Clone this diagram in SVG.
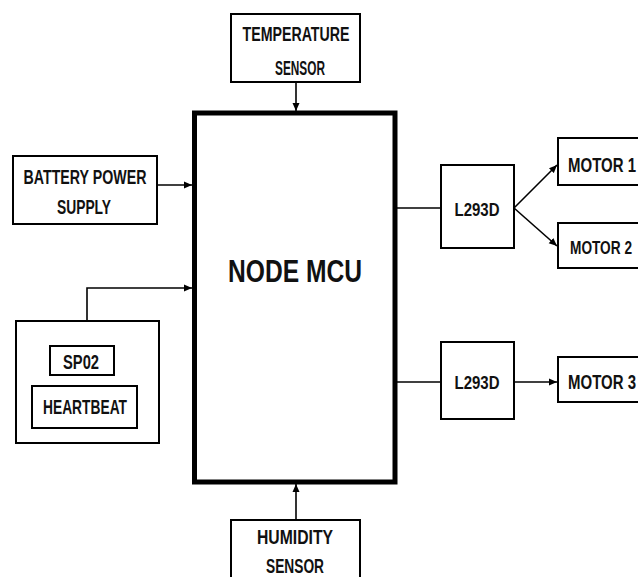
<svg xmlns="http://www.w3.org/2000/svg" width="638" height="577" viewBox="0 0 638 577">
<style>
.box{fill:#fff;stroke:#000;stroke-width:2}
.t{font-family:"Liberation Sans",Arial,sans-serif;font-weight:bold;fill:#111;text-anchor:middle}
.c{fill:none;stroke:#000;stroke-width:1.6}
</style>
<defs>
<marker id="ah" viewBox="0 0 8 8" refX="8" refY="4" markerWidth="8" markerHeight="8" markerUnits="userSpaceOnUse" orient="auto">
<path d="M0,0.5 L8,4 L0,7.5 Z" fill="#000"/>
</marker>
</defs>
<rect width="638" height="577" fill="#fff"/>
<g id="connectors">
<line class="c" x1="296" y1="82" x2="296" y2="111" marker-end="url(#ah)"/>
<line class="c" x1="157" y1="185" x2="192" y2="185" marker-end="url(#ah)"/>
<path class="c" d="M87,321 V288 H192" marker-end="url(#ah)"/>
<line class="c" x1="296" y1="520" x2="296" y2="484" marker-end="url(#ah)"/>
<line class="c" x1="397" y1="208" x2="441" y2="208"/>
<line class="c" x1="514" y1="208" x2="557" y2="165" marker-end="url(#ah)"/>
<line class="c" x1="514" y1="208" x2="557" y2="246" marker-end="url(#ah)"/>
<line class="c" x1="397" y1="382" x2="441" y2="382"/>
<line class="c" x1="514" y1="382" x2="557" y2="382" marker-end="url(#ah)"/>
</g>
<g id="temperature">
<rect class="box" x="231" y="14" width="129" height="68"/>
<text class="t" x="296" y="41" font-size="21" textLength="107" lengthAdjust="spacingAndGlyphs">TEMPERATURE</text>
<text class="t" x="300" y="75" font-size="21" textLength="50" lengthAdjust="spacingAndGlyphs">SENSOR</text>
</g>
<g id="mcu">
<rect x="194.5" y="113" width="200.5" height="369" fill="#fff" stroke="#000" stroke-width="5"/>
<text class="t" x="295" y="282" font-size="31" textLength="134" lengthAdjust="spacingAndGlyphs">NODE MCU</text>
</g>
<g id="battery">
<rect class="box" x="13" y="156" width="144" height="68"/>
<text class="t" x="85" y="184" font-size="21" textLength="123" lengthAdjust="spacingAndGlyphs">BATTERY POWER</text>
<text class="t" x="84" y="214" font-size="21" textLength="54" lengthAdjust="spacingAndGlyphs">SUPPLY</text>
</g>
<g id="sensors">
<rect class="box" x="16" y="321" width="143" height="122"/>
<g id="spo2">
<rect class="box" x="50" y="346" width="64" height="29"/>
<text class="t" x="81" y="369" font-size="20" textLength="36" lengthAdjust="spacingAndGlyphs">SP02</text>
</g>
<g id="heartbeat">
<rect class="box" x="32" y="386" width="105" height="42"/>
<text class="t" x="85" y="414" font-size="20" textLength="84" lengthAdjust="spacingAndGlyphs">HEARTBEAT</text>
</g>
</g>
<g id="humidity">
<rect class="box" x="231" y="520" width="129" height="70"/>
<text class="t" x="295" y="544" font-size="21" textLength="76" lengthAdjust="spacingAndGlyphs">HUMIDITY</text>
<text class="t" x="295" y="573" font-size="20" textLength="58" lengthAdjust="spacingAndGlyphs">SENSOR</text>
</g>
<g id="l293d-1">
<rect class="box" x="441" y="165" width="73" height="83"/>
<text class="t" x="477" y="216" font-size="19" textLength="45" lengthAdjust="spacingAndGlyphs">L293D</text>
</g>
<g id="l293d-2">
<rect class="box" x="441" y="342" width="73" height="77"/>
<text class="t" x="477" y="389" font-size="19" textLength="45" lengthAdjust="spacingAndGlyphs">L293D</text>
</g>
<g id="motor1">
<rect class="box" x="558" y="138" width="100" height="47"/>
<text class="t" x="602" y="172" font-size="20" textLength="68" lengthAdjust="spacingAndGlyphs">MOTOR 1</text>
</g>
<g id="motor2">
<rect class="box" x="558" y="223" width="100" height="45"/>
<text class="t" x="601" y="254" font-size="19" textLength="62" lengthAdjust="spacingAndGlyphs">MOTOR 2</text>
</g>
<g id="motor3">
<rect class="box" x="558" y="357" width="100" height="45"/>
<text class="t" x="602" y="389" font-size="20" textLength="68" lengthAdjust="spacingAndGlyphs">MOTOR 3</text>
</g>
</svg>
